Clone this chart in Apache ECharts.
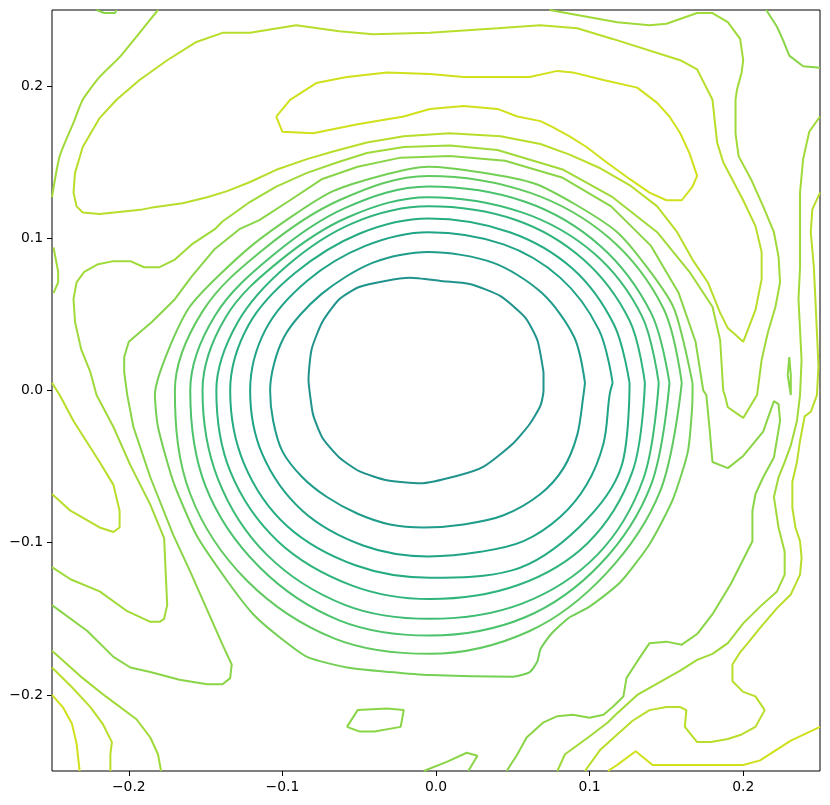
<!DOCTYPE html>
<html>
<head>
<meta charset="utf-8">
<script src="https://cdn.jsdelivr.net/npm/echarts@6/dist/echarts.min.js"></script>
<style>
  html, body { margin: 0; padding: 0; background: #fff; }
  #main { width: 830px; height: 805px; }
</style>
</head>
<body>
<div id="main"></div>
<script>
// contour level colours (viridis, low -> high)
var levelColors = ['#20938c', '#1f9d8a', '#20a486', '#25ac82', '#2fb47c', '#3dbc74', '#4bc26c',
                   '#60ca60', '#74d055', '#8ad547', '#a0da39', '#b7de2a', '#d0e11c'];

var tickValues = [-0.2, -0.1, 0, 0.1, 0.2];

// closed rings round the centre, inner to outer
var ring1 = [[0.070,0.012],[0.066,0.033],[0.058,0.048],[0.042,0.062],[0.022,0.070],[0.003,0.072],[-0.017,0.074],
  [-0.033,0.072],[-0.050,0.068],[-0.063,0.060],[-0.074,0.045],[-0.081,0.027],[-0.083,0.007],[-0.082,-0.003],
  [-0.080,-0.016],[-0.074,-0.031],[-0.063,-0.044],[-0.050,-0.053],[-0.032,-0.059],[-0.010,-0.061],[0.014,-0.056],
  [0.031,-0.050],[0.050,-0.035],[0.061,-0.022],[0.068,-0.010],[0.070,0.000],[0.070,0.012]];
var ring2 = [[0.097,0.005],[0.090,0.035],[0.069,0.064],[0.037,0.084],[-0.005,0.091],[-0.041,0.084],[-0.075,0.063],
  [-0.099,0.035],[-0.108,0.000],[-0.106,-0.020],[-0.100,-0.040],[-0.087,-0.057],[-0.071,-0.070],[-0.051,-0.081],
  [-0.030,-0.088],[-0.008,-0.090],[0.018,-0.088],[0.044,-0.082],[0.068,-0.068],[0.083,-0.051],[0.092,-0.029],
  [0.096,-0.003],[0.097,0.005]];
var ring3 = [[0.115,0.005],[0.106,0.040],[0.081,0.074],[0.044,0.096],[-0.005,0.104],[-0.046,0.095],[-0.084,0.072],
  [-0.111,0.040],[-0.121,0.000],[-0.113,-0.042],[-0.087,-0.079],[-0.047,-0.102],[-0.005,-0.109],[0.029,-0.106],
  [0.057,-0.099],[0.081,-0.083],[0.098,-0.062],[0.109,-0.035],[0.113,-0.003],[0.115,0.005]];
var ring4 = [[0.126,0.005],[0.116,0.043],[0.089,0.080],[0.048,0.104],[-0.005,0.113],[-0.050,0.103],[-0.092,0.077],
  [-0.122,0.043],[-0.134,0.000],[-0.125,-0.048],[-0.097,-0.089],[-0.052,-0.115],[-0.004,-0.123],[0.050,-0.118],
  [0.093,-0.090],[0.121,-0.049],[0.126,0.005]];
var ring5 = [[0.136,0.005],[0.126,0.046],[0.096,0.086],[0.052,0.112],[-0.005,0.121],[-0.054,0.110],[-0.097,0.082],
  [-0.129,0.045],[-0.143,0.000],[-0.134,-0.053],[-0.103,-0.099],[-0.055,-0.128],[-0.004,-0.137],[0.053,-0.128],
  [0.099,-0.100],[0.128,-0.053],[0.136,0.005]];
var ring6 = [[0.145,0.005],[0.134,0.049],[0.103,0.090],[0.056,0.117],[-0.005,0.127],[-0.057,0.114],[-0.102,0.085],
  [-0.137,0.048],[-0.152,0.000],[-0.142,-0.058],[-0.110,-0.108],[-0.059,-0.141],[-0.004,-0.150],[0.056,-0.140],
  [0.105,-0.108],[0.135,-0.058],[0.145,0.005]];
var ring7 = [[0.152,0.005],[0.140,0.051],[0.107,0.095],[0.058,0.124],[-0.005,0.134],[-0.059,0.120],[-0.106,0.089],
  [-0.144,0.049],[-0.160,0.000],[-0.150,-0.063],[-0.115,-0.116],[-0.063,-0.151],[-0.004,-0.161],[0.058,-0.149],
  [0.107,-0.114],[0.140,-0.062],[0.152,0.005]];
var ring8 = [[0.160,0.005],[0.148,0.054],[0.113,0.100],[0.061,0.130],[-0.005,0.141],[-0.063,0.125],[-0.112,0.093],
  [-0.152,0.052],[-0.170,0.000],[-0.160,-0.068],[-0.123,-0.125],[-0.066,-0.163],[-0.004,-0.173],[0.061,-0.158],
  [0.111,-0.120],[0.146,-0.066],[0.160,0.005]];
var ring9 = [[0.167,0.005],[0.154,0.056],[0.118,0.104],[0.064,0.136],[-0.005,0.147],[-0.067,0.131],[-0.119,0.096],
  [-0.161,0.054],[-0.183,-0.003],[-0.181,-0.024],[-0.171,-0.060],[-0.156,-0.095],[-0.136,-0.125],[-0.119,-0.147],
  [-0.102,-0.162],[-0.084,-0.175],[-0.058,-0.182],[-0.030,-0.185],[-0.004,-0.187],[0.050,-0.188],[0.061,-0.185],
  [0.066,-0.178],[0.068,-0.170],[0.075,-0.160],[0.087,-0.149],[0.100,-0.142],[0.120,-0.126],[0.139,-0.101],
  [0.154,-0.072],[0.164,-0.040],[0.167,-0.003],[0.167,0.005]];

// open line wrapping the rings: left edge round to the bottom edge
var lineG = [[-0.250,-0.141],[-0.227,-0.158],[-0.210,-0.175],[-0.199,-0.182],[-0.186,-0.185],[-0.167,-0.190],
  [-0.149,-0.193],[-0.139,-0.193],[-0.134,-0.189],[-0.133,-0.180],[-0.139,-0.167],[-0.160,-0.119],[-0.171,-0.095],
  [-0.186,-0.057],[-0.197,-0.024],[-0.201,-0.003],[-0.203,0.012],[-0.203,0.022],[-0.200,0.032],[-0.185,0.045],
  [-0.170,0.060],[-0.159,0.075],[-0.144,0.093],[-0.128,0.106],[-0.115,0.112],[-0.095,0.125],[-0.074,0.139],
  [-0.051,0.147],[-0.023,0.153],[0.009,0.154],[0.045,0.151],[0.082,0.140],[0.114,0.121],[0.140,0.095],
  [0.158,0.064],[0.169,0.032],[0.174,0.000],[0.176,-0.003],[0.178,-0.024],[0.180,-0.047],[0.190,-0.051],
  [0.200,-0.043],[0.213,-0.027],[0.220,-0.007],[0.223,-0.009],[0.224,-0.020],[0.220,-0.044],[0.213,-0.057],
  [0.208,-0.068],[0.206,-0.079],[0.206,-0.099],[0.200,-0.111],[0.192,-0.127],[0.180,-0.147],[0.170,-0.160],
  [0.160,-0.167],[0.150,-0.165],[0.139,-0.166],[0.131,-0.178],[0.124,-0.189],[0.122,-0.201],[0.115,-0.208],
  [0.109,-0.213],[0.100,-0.215],[0.089,-0.213],[0.079,-0.214],[0.070,-0.218],[0.059,-0.228],[0.053,-0.239],
  [0.046,-0.250]];

// next level: left edge, over the top, V on the right, back up to the top edge
var lineF = [[-0.250,-0.116],[-0.238,-0.124],[-0.219,-0.132],[-0.201,-0.145],[-0.186,-0.152],[-0.180,-0.152],
  [-0.177,-0.150],[-0.175,-0.141],[-0.177,-0.097],[-0.186,-0.075],[-0.199,-0.049],[-0.210,-0.024],[-0.221,-0.003],
  [-0.225,0.012],[-0.231,0.027],[-0.235,0.045],[-0.236,0.060],[-0.234,0.071],[-0.229,0.078],[-0.220,0.083],
  [-0.210,0.085],[-0.199,0.085],[-0.190,0.081],[-0.180,0.081],[-0.170,0.086],[-0.159,0.096],[-0.144,0.106],
  [-0.139,0.111],[-0.121,0.124],[-0.104,0.134],[-0.084,0.143],[-0.064,0.150],[-0.045,0.156],[-0.021,0.160],
  [0.009,0.161],[0.040,0.158],[0.083,0.145],[0.115,0.127],[0.144,0.104],[0.165,0.078],[0.180,0.055],
  [0.185,0.033],[0.187,0.000],[0.188,-0.003],[0.190,-0.011],[0.200,-0.018],[0.209,-0.003],[0.212,0.020],
  [0.216,0.038],[0.221,0.055],[0.224,0.071],[0.223,0.088],[0.220,0.104],[0.213,0.121],[0.205,0.139],
  [0.197,0.154],[0.195,0.169],[0.195,0.191],[0.196,0.198],[0.199,0.209],[0.200,0.217],[0.198,0.231],
  [0.190,0.242],[0.180,0.248],[0.170,0.248],[0.150,0.241],[0.139,0.240],[0.118,0.242],[0.074,0.250]];

// big closed loop across the top
var loopC = [[-0.230,0.117],[-0.234,0.121],[-0.236,0.130],[-0.235,0.143],[-0.230,0.160],[-0.219,0.179],
  [-0.208,0.191],[-0.193,0.204],[-0.175,0.217],[-0.156,0.229],[-0.139,0.235],[-0.121,0.235],[-0.091,0.240],
  [-0.063,0.236],[-0.041,0.234],[-0.004,0.235],[0.040,0.238],[0.068,0.240],[0.092,0.238],[0.115,0.231],
  [0.159,0.217],[0.170,0.211],[0.180,0.191],[0.183,0.163],[0.187,0.150],[0.200,0.125],[0.208,0.108],
  [0.212,0.091],[0.212,0.073],[0.208,0.053],[0.200,0.032],[0.190,0.041],[0.185,0.051],[0.177,0.071],
  [0.167,0.086],[0.157,0.104],[0.144,0.121],[0.126,0.135],[0.107,0.146],[0.087,0.155],[0.068,0.162],
  [0.042,0.167],[0.009,0.169],[-0.021,0.167],[-0.045,0.163],[-0.067,0.157],[-0.084,0.152],[-0.104,0.145],
  [-0.121,0.137],[-0.136,0.131],[-0.149,0.127],[-0.165,0.123],[-0.186,0.120],[-0.191,0.119],[-0.219,0.116],
  [-0.230,0.117]];

// innermost yellow loop near the top
var loopTop = [[-0.104,0.180],[-0.095,0.191],[-0.078,0.202],[-0.058,0.206],[-0.032,0.209],[-0.004,0.208],
  [0.018,0.206],[0.061,0.206],[0.079,0.210],[0.089,0.209],[0.109,0.204],[0.131,0.199],[0.144,0.189],
  [0.152,0.180],[0.159,0.169],[0.165,0.156],[0.170,0.141],[0.167,0.134],[0.160,0.125],[0.150,0.125],
  [0.139,0.130],[0.126,0.139],[0.111,0.150],[0.098,0.160],[0.087,0.167],[0.076,0.173],[0.068,0.177],
  [0.053,0.180],[0.040,0.185],[0.018,0.187],[-0.004,0.185],[-0.021,0.180],[-0.051,0.175],[-0.080,0.169],
  [-0.100,0.170],[-0.104,0.180]];

// top-left corner lines
var lineB = [[-0.181,0.250],[-0.193,0.235],[-0.206,0.219],[-0.219,0.206],[-0.230,0.191],[-0.236,0.176],
  [-0.245,0.154],[-0.250,0.127]];
var topNick = [[-0.221,0.250],[-0.216,0.248],[-0.209,0.248],[-0.208,0.250]];
var leftNick = [[-0.249,0.094],[-0.246,0.078],[-0.246,0.071],[-0.249,0.064]];
var leftTongue = [[-0.250,0.005],[-0.245,-0.003],[-0.236,-0.020],[-0.219,-0.047],[-0.210,-0.062],
  [-0.206,-0.079],[-0.206,-0.090],[-0.210,-0.093],[-0.219,-0.090],[-0.238,-0.079],[-0.250,-0.068]];

// bottom-left corner lines
var cornerBL1 = [[-0.250,-0.171],[-0.230,-0.189],[-0.215,-0.201],[-0.195,-0.216],[-0.186,-0.228],
  [-0.181,-0.239],[-0.179,-0.250]];
var cornerBL2 = [[-0.250,-0.182],[-0.237,-0.195],[-0.225,-0.208],[-0.217,-0.219],[-0.211,-0.231],
  [-0.212,-0.239],[-0.212,-0.250]];
var cornerBL3 = [[-0.250,-0.200],[-0.243,-0.208],[-0.237,-0.219],[-0.234,-0.232],[-0.232,-0.250]];
var islandBottom = [[-0.058,-0.221],[-0.051,-0.210],[-0.032,-0.209],[-0.021,-0.210],[-0.023,-0.221],
  [-0.040,-0.224],[-0.050,-0.224],[-0.058,-0.221]];
var bumpBottom = [[-0.008,-0.250],[0.007,-0.244],[0.020,-0.238],[0.027,-0.240],[0.021,-0.250]];

// right side lines
var lineK = [[0.250,0.180],[0.243,0.170],[0.239,0.152],[0.237,0.130],[0.237,0.104],[0.237,0.081],
  [0.236,0.060],[0.237,0.040],[0.238,0.020],[0.237,-0.003],[0.235,-0.020],[0.231,-0.036],[0.227,-0.047],
  [0.223,-0.057],[0.220,-0.070],[0.223,-0.090],[0.227,-0.106],[0.227,-0.121],[0.222,-0.132],[0.211,-0.142],
  [0.200,-0.153],[0.190,-0.166],[0.180,-0.173],[0.170,-0.177],[0.159,-0.184],[0.131,-0.200],[0.118,-0.212],
  [0.112,-0.218],[0.099,-0.228],[0.084,-0.239],[0.079,-0.250]];
var lineL = [[0.250,0.130],[0.245,0.119],[0.244,0.104],[0.246,0.081],[0.247,0.060],[0.248,0.038],[0.249,0.016],
  [0.248,-0.003],[0.244,-0.014],[0.240,-0.017],[0.237,-0.033],[0.235,-0.047],[0.232,-0.060],[0.232,-0.077],
  [0.234,-0.090],[0.237,-0.099],[0.238,-0.110],[0.237,-0.121],[0.231,-0.134],[0.222,-0.143],[0.211,-0.156],
  [0.203,-0.166],[0.198,-0.172],[0.193,-0.180],[0.193,-0.191],[0.200,-0.198],[0.208,-0.201],[0.214,-0.210],
  [0.208,-0.221],[0.199,-0.226],[0.190,-0.229],[0.179,-0.231],[0.170,-0.231],[0.162,-0.221],[0.163,-0.210],
  [0.159,-0.208],[0.150,-0.208],[0.139,-0.210],[0.128,-0.217],[0.118,-0.226],[0.107,-0.236],[0.097,-0.250]];
var lineM = [[0.250,-0.221],[0.231,-0.230],[0.211,-0.243],[0.200,-0.246],[0.161,-0.246],[0.141,-0.246],
  [0.130,-0.237],[0.118,-0.246],[0.112,-0.250]];
var cornerTR = [[0.215,0.250],[0.222,0.239],[0.226,0.230],[0.230,0.220],[0.239,0.213],[0.250,0.212]];
var islandRight = [[0.230,0.022],[0.231,0.010],[0.231,-0.003],[0.229,0.010],[0.230,0.022]];

var contours = [
  { data: ring1, level: 0, smooth: 0.2 },
  { data: ring2, level: 1, smooth: 0.3 },
  { data: ring3, level: 2, smooth: 0.35 },
  { data: ring4, level: 3, smooth: 0.35 },
  { data: ring5, level: 4, smooth: 0.35 },
  { data: ring6, level: 5, smooth: 0.35 },
  { data: ring7, level: 6, smooth: 0.35 },
  { data: ring8, level: 7, smooth: 0.35 },
  { data: ring9, level: 8, smooth: 0.2 },
  { data: lineG, level: 9, smooth: 0 },
  { data: lineF, level: 10, smooth: 0 },
  { data: loopC, level: 11, smooth: 0 },
  { data: loopTop, level: 12, smooth: 0 },
  { data: lineB, level: 10, smooth: 0.2 },
  { data: topNick, level: 9, smooth: 0 },
  { data: leftNick, level: 10, smooth: 0 },
  { data: leftTongue, level: 11, smooth: 0 },
  { data: cornerBL1, level: 10, smooth: 0 },
  { data: cornerBL2, level: 11, smooth: 0 },
  { data: cornerBL3, level: 12, smooth: 0 },
  { data: islandBottom, level: 9, smooth: 0 },
  { data: bumpBottom, level: 9, smooth: 0 },
  { data: lineK, level: 10, smooth: 0 },
  { data: lineL, level: 11, smooth: 0 },
  { data: lineM, level: 12, smooth: 0 },
  { data: cornerTR, level: 9, smooth: 0 },
  { data: islandRight, level: 9, smooth: 0 }
];

function tickText(v) {
  return v.toFixed(1).replace('-', '\u2212');
}

var myChart = echarts.init(document.getElementById('main'), null, { renderer: 'canvas' });

function makeAxis() {
  return {
    type: 'value',
    min: -0.25,
    max: 0.25,
    axisLine: { show: false, onZero: false },
    splitLine: { show: false },
    axisTick: {
      show: true,
      inside: false,
      length: 5,
      customValues: tickValues,
      lineStyle: { color: '#000', width: 1 }
    },
    axisLabel: {
      customValues: tickValues,
      formatter: tickText,
      color: '#000',
      fontFamily: 'DejaVu Sans',
      fontSize: 13.9,
      margin: 9
    }
  };
}

var option = {
  animation: false,
  backgroundColor: '#fff',
  grid: {
    left: 52,
    right: 10,
    top: 10,
    bottom: 34,
    show: true,
    borderColor: '#000',
    borderWidth: 1,
    backgroundColor: 'transparent'
  },
  xAxis: makeAxis(),
  yAxis: makeAxis(),
  series: contours.map(function (c) {
    return {
      type: 'line',
      data: c.data,
      showSymbol: false,
      symbol: 'none',
      smooth: c.smooth,
      silent: true,
      clip: true,
      lineStyle: { color: levelColors[c.level], width: 2 }
    };
  })
};

myChart.setOption(option);
</script>
</body>
</html>
